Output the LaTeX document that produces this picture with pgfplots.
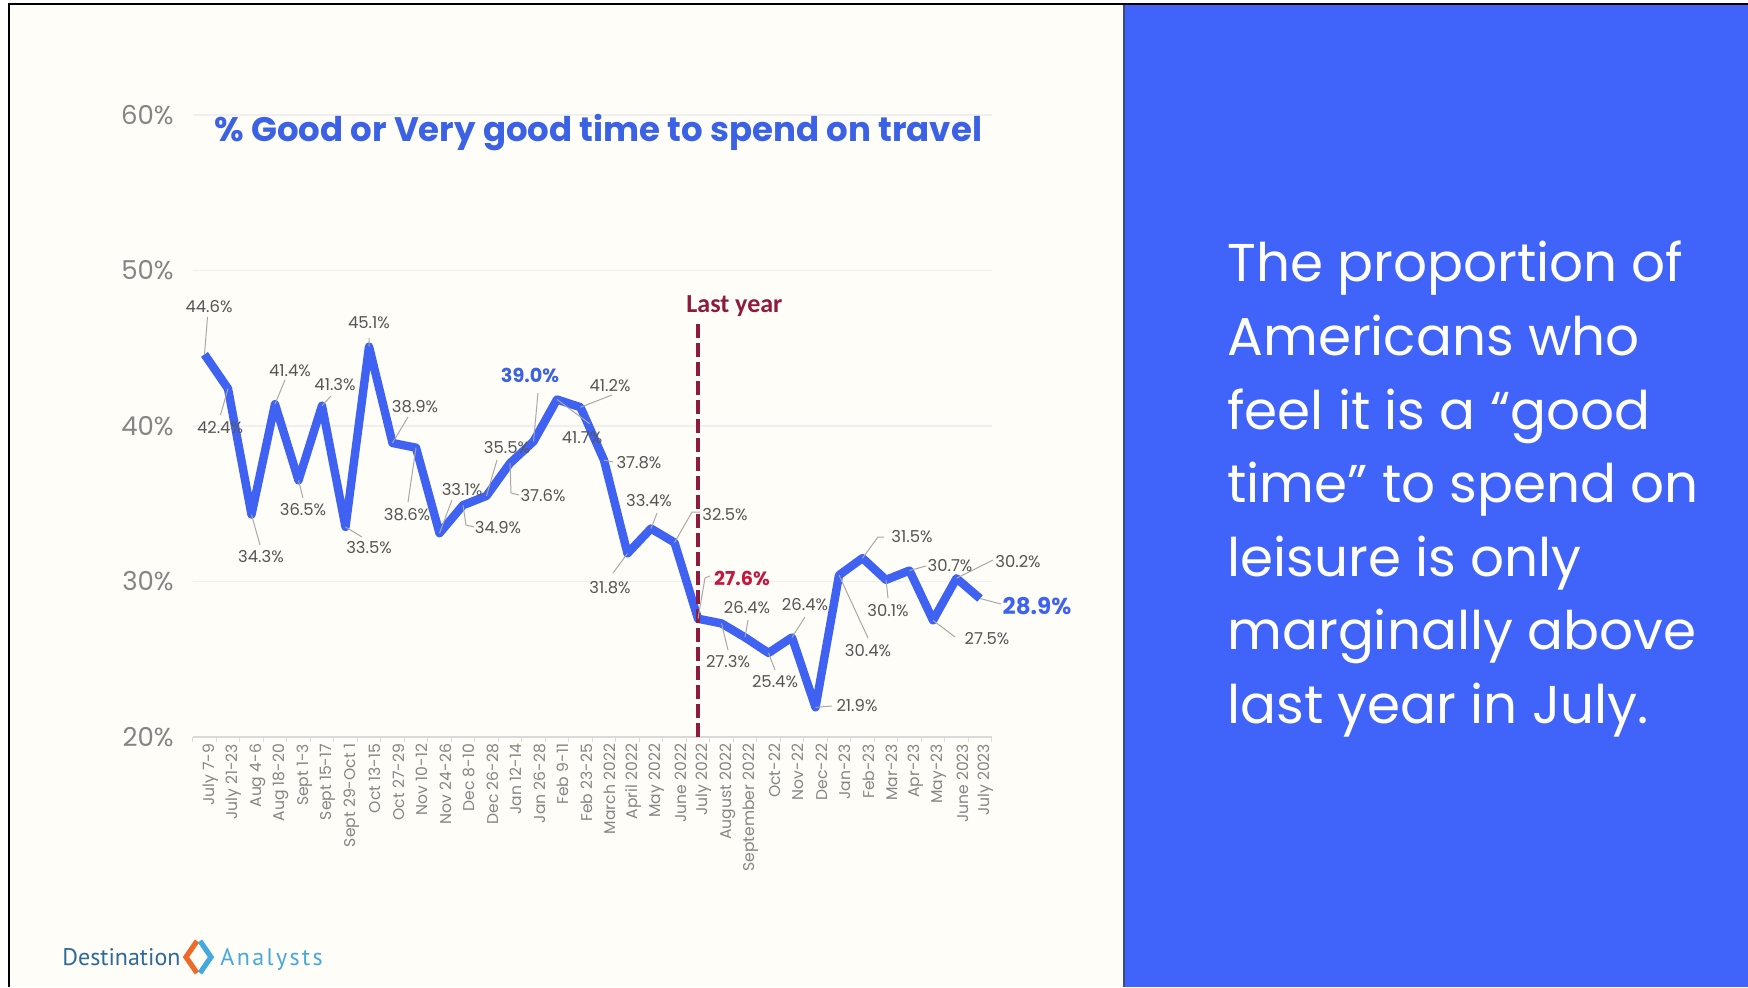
\documentclass[border=0pt]{standalone}
\usepackage{pgfplots}
\pgfplotsset{compat=1.18}
\usepackage{fontspec}
\setmainfont{Poppins}
\newfontfamily\calibri{Carlito}
\newfontfamily\logofont{PT Sans}
\definecolor{bgleft}{HTML}{FEFDF7}
\definecolor{panel}{HTML}{4063FA}
\definecolor{divider}{HTML}{3A4A7A}
\definecolor{linecol}{HTML}{3F62F2}
\definecolor{titleblue}{HTML}{3B62E4}
\definecolor{lastyear}{HTML}{8E1B3E}
\definecolor{crimson}{HTML}{C4173F}
\definecolor{tickgray}{HTML}{858585}
\definecolor{labgray}{HTML}{555555}
\definecolor{leadgray}{HTML}{A8A8A8}
\definecolor{axisgray}{HTML}{D9D9D9}
\definecolor{gridgray}{HTML}{EFEFEF}
\definecolor{logodark}{HTML}{2D6A9A}
\definecolor{logolight}{HTML}{45A9DC}
\definecolor{logoorange}{HTML}{EE6A2A}

\begin{document}
\begin{tikzpicture}
% backgrounds
\fill[white] (0,0) rectangle (874pt,493.5pt);
\fill[bgleft] (5pt,0) rectangle (561.5pt,491pt);
\fill[panel] (561.5pt,0) rectangle (874pt,491pt);
\draw[black, line width=1.1pt] (4.6pt,0) -- (4.6pt,491.6pt) -- (874pt,491.6pt);
\draw[divider, line width=1pt] (561.8pt,0) -- (561.8pt,491pt);

\begin{axis}[
  at={(96.375pt,125.05pt)}, anchor=south west,
  scale only axis, width=399.5pt, height=311pt,
  xmin=-0.5, xmax=33.5, ymin=20, ymax=60,
  axis x line*=bottom, axis y line*=left,
  y axis line style={draw=none},
  x axis line style={draw=axisgray, line width=0.8pt},
  ytick={20,30,40,50,60},
  yticklabels={20\%,30\%,40\%,50\%,60\%},
  ymajorgrids,
  major grid style={draw=gridgray, line width=0.6pt},
  major tick length=0pt,
  minor tick length=2.5pt,
  tick align=outside,
  tick style={draw=axisgray, line width=0.6pt},
  yticklabel style={font=\fontsize{13}{15}\selectfont, text=tickgray, xshift=-6pt},
  xtick={0,...,33},
  minor xtick={-0.5,0.5,...,33.5},
  xticklabels={July 7-9,July 21-23,Aug 4-6,Aug 18-20,Sept 1-3,Sept 15-17,Sept 29-Oct 1,Oct 13-15,Oct 27-29,Nov 10-12,Nov 24-26,Dec 8-10,Dec 26-28,Jan 12-14,Jan 26-28,Feb 9-11,Feb 23-25,March 2022,April 2022,May 2022,June 2022,July 2022,August 2022,September 2022,Oct-22,Nov-22,Dec-22,Jan-23,Feb-23,Mar-23,Apr-23,May-23,June 2023,July 2023},
  xticklabel style={rotate=90, anchor=east, font=\fontsize{7.8}{9}\selectfont, text=tickgray, yshift=-3pt},
  clip=false,
]
\addplot[linecol, line width=4.2pt, line join=round, mark=none] coordinates {
(0,44.6) (1,42.4) (2,34.3) (3,41.4) (4,36.5) (5,41.3) (6,33.5) (7,45.1)
(8,38.9) (9,38.6) (10,33.1) (11,34.9) (12,35.5) (13,37.6) (14,39.0) (15,41.7)
(16,41.2) (17,37.8) (18,31.8) (19,33.4) (20,32.5) (21,27.6) (22,27.3) (23,26.4)
(24,25.4) (25,26.4) (26,21.9) (27,30.4) (28,31.5) (29,30.1) (30,30.7) (31,27.5)
(32,30.2) (33,28.9)};
\draw[lastyear, line width=2.2pt, dash pattern=on 7pt off 2.5pt] (axis cs:21,20) -- (axis cs:21,46.7);
\coordinate (p0) at (axis cs:0,44.6);
\coordinate (p1) at (axis cs:1,42.4);
\coordinate (p2) at (axis cs:2,34.3);
\coordinate (p3) at (axis cs:3,41.4);
\coordinate (p4) at (axis cs:4,36.5);
\coordinate (p5) at (axis cs:5,41.3);
\coordinate (p6) at (axis cs:6,33.5);
\coordinate (p7) at (axis cs:7,45.1);
\coordinate (p8) at (axis cs:8,38.9);
\coordinate (p9) at (axis cs:9,38.6);
\coordinate (p10) at (axis cs:10,33.1);
\coordinate (p11) at (axis cs:11,34.9);
\coordinate (p12) at (axis cs:12,35.5);
\coordinate (p13) at (axis cs:13,37.6);
\coordinate (p14) at (axis cs:14,39.0);
\coordinate (p15) at (axis cs:15,41.7);
\coordinate (p16) at (axis cs:16,41.2);
\coordinate (p17) at (axis cs:17,37.8);
\coordinate (p18) at (axis cs:18,31.8);
\coordinate (p19) at (axis cs:19,33.4);
\coordinate (p20) at (axis cs:20,32.5);
\coordinate (p21) at (axis cs:21,27.6);
\coordinate (p22) at (axis cs:22,27.3);
\coordinate (p23) at (axis cs:23,26.4);
\coordinate (p24) at (axis cs:24,25.4);
\coordinate (p25) at (axis cs:25,26.4);
\coordinate (p26) at (axis cs:26,21.9);
\coordinate (p27) at (axis cs:27,30.4);
\coordinate (p28) at (axis cs:28,31.5);
\coordinate (p29) at (axis cs:29,30.1);
\coordinate (p30) at (axis cs:30,30.7);
\coordinate (p31) at (axis cs:31,27.5);
\coordinate (p32) at (axis cs:32,30.2);
\coordinate (p33) at (axis cs:33,28.9);
\end{axis}

% annotations in pixel coordinates of the reference (1748 x 987)
\begin{scope}[x=0.5pt, y=-0.5pt, yshift=493.5pt]
% title
\node[anchor=base west, inner sep=0, text=titleblue, font=\fontsize{17}{20}\selectfont\bfseries] at (214,142) {\% Good or Very good time to spend on travel};
% last year
\node[anchor=base west, inner sep=0, text=lastyear, font=\calibri\fontsize{13}{15}\selectfont\bfseries] at (686,312) {Last year};
% leader lines
\begin{scope}[leadgray, line width=0.5pt]
\draw (p0) -- (207.5,317);
\draw (p1) -- (220.5,415);
\draw (p2) -- (260,545);
\draw (p3) -- (285,380);
\draw (p4) -- (303,498);
\draw (p5) -- (331,396);
\draw (p6) -- (362,537);
\draw (p7) -- (369,338);
\draw (p8) -- (408,417);
\draw (p9) -- (408,502);
\draw (p10) -- (452,500);
\draw (p11) -- (466,525) -- (474,527);
\draw (p12) -- (497,460);
\draw (p13) -- (511,493) -- (519,495);
\draw (p14) -- (538,393);
\draw (p15) -- (590,424);
\draw (p16) -- (612,395);
\draw (p17) -- (613,462);
\draw (p18) -- (613,573);
\draw (p19) -- (657,513);
\draw (p20) -- (692,512) -- (700,512);
\draw (p21) -- (705,578) -- (710,576);
\draw (p22) -- (728,650);
\draw (p23) -- (748,620);
\draw (p24) -- (775,670);
\draw (p25) -- (805,617);
\draw (p26) -- (832,706);
\draw (p27) -- (868,638);
\draw (p28) -- (878,537) -- (884,537);
\draw (p29) -- (888,598);
\draw (p30) -- (926,566);
\draw (p31) -- (955,637);
\draw (p32) -- (993,560);
\draw (p33) -- (1001,604);
\end{scope}
% data labels
\begin{scope}[every node/.style={text=labgray, inner sep=0, font=\fontsize{8.2}{10}\selectfont}]
\node at (209,307) {44.6\%};
\node at (220,428) {42.4\%};
\node at (261,557) {34.3\%};
\node at (290,371) {41.4\%};
\node at (303,510) {36.5\%};
\node at (335,385) {41.3\%};
\node at (369,548) {33.5\%};
\node at (369,323) {45.1\%};
\node at (415,407) {38.9\%};
\node at (407,515) {38.6\%};
\node at (462,490) {33.1\%};
\node at (498,528) {34.9\%};
\node at (507,448) {35.5\%};
\node at (543,496) {37.6\%};
\node[text=titleblue, font=\fontsize{9.6}{11}\selectfont\bfseries] at (530,375) {39.0\%};
\node at (582,438) {41.7\%};
\node at (610,386) {41.2\%};
\node at (639,463) {37.8\%};
\node at (610,588) {31.8\%};
\node at (649,501) {33.4\%};
\node at (725,515) {32.5\%};
\node[text=crimson, font=\fontsize{9.6}{11}\selectfont\bfseries] at (742,578) {27.6\%};
\node at (728,662) {27.3\%};
\node at (747,608) {26.4\%};
\node at (775,682) {25.4\%};
\node at (805,605) {26.4\%};
\node at (857,706) {21.9\%};
\node at (868,651) {30.4\%};
\node at (912,537) {31.5\%};
\node at (888,611) {30.1\%};
\node at (950,566) {30.7\%};
\node at (987,639) {27.5\%};
\node at (1018,562) {30.2\%};
\node[text=linecol, font=\fontsize{11.5}{13}\selectfont\bfseries] at (1037,606) {28.9\%};
\end{scope}
% right panel text
\begin{scope}[every node/.style={anchor=base west, inner sep=0, text=white, font=\fontsize{26.6}{30}\selectfont}]
\node at (1227,282) {The proportion of};
\node at (1227,355.5) {Americans who};
\node at (1227,429) {feel it is a “good};
\node at (1227,502.5) {time” to spend on};
\node at (1227,576) {leisure is only};
\node at (1227,649.5) {marginally above};
\node at (1227,723) {last year in July.};
\end{scope}
% logo
\node[anchor=base west, inner sep=0, text=logodark, font=\logofont\fontsize{12}{14}\selectfont] at (62,965) {Destination};
\draw[logoorange, line width=2.6pt, line join=miter] (197,941) -- (186,957) -- (197,973);
\draw[logolight, line width=2.6pt, line join=miter] (200,941) -- (211,957) -- (200,973);
\node[anchor=base west, inner sep=0, text=logolight, font=\logofont\fontsize{12}{14}\selectfont\addfontfeatures{LetterSpace=10}] at (220,965) {Analysts};
\end{scope}

\pgfresetboundingbox
\useasboundingbox (0,0) rectangle (874pt,493.5pt);
\end{tikzpicture}
\end{document}
